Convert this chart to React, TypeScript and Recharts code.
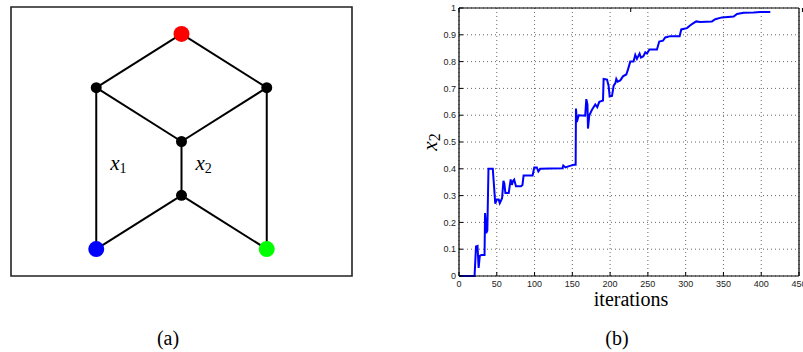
import React from 'react';
import {
  LineChart,
  Line,
  XAxis,
  YAxis,
  CartesianGrid,
  ScatterChart,
  Scatter,
  ReferenceArea,
  Label,
} from 'recharts';

// ---------- Panel (b): x2 vs iterations ----------
const iterations = [
  0, 20.6, 22.5, 24.5, 26, 27.5, 29.5, 33.8, 34.5, 35.5, 36, 37.5, 39, 44.7, 46.5, 48, 50, 52.6, 54, 57,
  58.8, 60, 61.4, 65.8, 68.4, 70, 71.5, 73, 75.4, 82, 84, 85.5, 97.4, 99.6, 103, 105, 107.5, 120, 137, 138,
  141, 145.6, 152, 154.4, 154.8, 156, 158.4, 167, 168.5, 170, 170.7, 172.5, 176, 180.4, 183, 185.7, 190.6,
  191.4, 195.9, 198, 199.4, 202.5, 204.7, 207, 208.2, 210, 213.5, 217, 221.4, 223.6, 226.7, 231, 233.3,
  235.5, 239, 240.8, 244, 246.6, 248.8, 252, 262, 265, 270, 273, 279.7, 292, 294.2, 301.7, 308.3, 314,
  319.4, 334.8, 339.2, 348, 363.5, 368, 376.7, 390, 398.8, 412,
];
const x2Values = [
  0, 0, 0.11, 0.112, 0.03, 0.075, 0.078, 0.078, 0.235, 0.2, 0.16, 0.17, 0.4, 0.4, 0.33, 0.27, 0.285, 0.285,
  0.272, 0.29, 0.355, 0.345, 0.31, 0.31, 0.36, 0.34, 0.355, 0.36, 0.335, 0.335, 0.34, 0.375, 0.375, 0.405,
  0.405, 0.39, 0.4, 0.401, 0.402, 0.412, 0.405, 0.41, 0.415, 0.415, 0.625, 0.575, 0.6, 0.598, 0.66, 0.64,
  0.55, 0.6, 0.62, 0.64, 0.63, 0.65, 0.655, 0.735, 0.733, 0.71, 0.67, 0.672, 0.71, 0.72, 0.735, 0.725, 0.73,
  0.745, 0.752, 0.77, 0.8, 0.8, 0.825, 0.81, 0.83, 0.815, 0.82, 0.835, 0.83, 0.845, 0.845, 0.875, 0.878,
  0.89, 0.895, 0.895, 0.92, 0.925, 0.94, 0.95, 0.948, 0.95, 0.958, 0.965, 0.968, 0.978, 0.982, 0.983,
  0.985, 0.985,
];
const xTicks = [0, 50, 100, 150, 200, 250, 300, 350, 400, 450];
const yTicks = [0, 0.1, 0.2, 0.3, 0.4, 0.5, 0.6, 0.7, 0.8, 0.9, 1];
const xAxisTitle = 'iterations';
const yAxisTitle = 'x';
const yAxisTitleSub = '2';

// ---------- Panel (a): graph ----------
const nodeIds = ['top', 'midLeft', 'midRight', 'center', 'lowCenter', 'bottomLeft', 'bottomRight'];
const nodeX = [2, 1, 3, 2, 2, 1, 3];
const nodeY = [4.5, 3.5, 3.5, 2.5, 1.5, 0.5, 0.5];
const edgeFrom = ['top', 'top', 'midLeft', 'midRight', 'center', 'lowCenter', 'lowCenter', 'midLeft', 'midRight'];
const edgeTo = ['midLeft', 'midRight', 'center', 'center', 'lowCenter', 'bottomLeft', 'bottomRight', 'bottomLeft', 'bottomRight'];
const edgeLabelSub = ['1', '2'];
const edgeLabelX = [1.26, 2.26];
const edgeLabelY = [2.06, 2.06];
const captions = ['(a)', '(b)'];

// styles
const NODE_FILL: Record<string, string> = { top: '#ff0000', bottomLeft: '#0000ff', bottomRight: '#00ff00' };
const TERMINAL_R = 8;
const INNER_R = 5.5;

const lineData = iterations.map((x, i) => ({ x, y: x2Values[i] }));
const nodes = nodeIds.map((id, i) => ({ id, x: nodeX[i], y: nodeY[i] }));
const nodeById: Record<string, { id: string; x: number; y: number }> = {};
nodes.forEach((n) => (nodeById[n.id] = n));
const edges = edgeFrom.map((f, i) => [
  { x: nodeById[f].x, y: nodeById[f].y },
  { x: nodeById[edgeTo[i]].x, y: nodeById[edgeTo[i]].y },
]);
const edgeLabels = edgeLabelSub.map((sub, i) => ({ x: edgeLabelX[i], y: edgeLabelY[i], sub }));

const tickFont = { fill: '#222', fontSize: 9, fontFamily: '"Liberation Sans", Arial, sans-serif' };
const axisStroke = { stroke: '#000', strokeWidth: 1.2 };
const empty = () => '';

const NodeShape = (props: any) => {
  const { cx, cy, payload } = props;
  const fill = NODE_FILL[payload.id] || '#000';
  const r = NODE_FILL[payload.id] ? TERMINAL_R : INNER_R;
  return <circle cx={cx} cy={cy} r={r} fill={fill} />;
};

const EdgeLabelShape = (props: any) => {
  const { cx, cy, payload } = props;
  return (
    <text
      x={cx}
      y={cy + 5}
      textAnchor="middle"
      fontFamily='"Liberation Serif", "DejaVu Serif", serif'
      fill="#000"
    >
      <tspan fontStyle="italic" fontSize={21}>x</tspan>
      <tspan fontSize={14} dy={3}>{payload.sub}</tspan>
    </text>
  );
};

const NoShape = () => <g />;

const YTitle = (props: any) => {
  const vb = props.viewBox || { x: 0, y: 0, width: 0, height: 0 };
  const cx = vb.x + 32;
  const cy = vb.y + vb.height / 2;
  return (
    <text
      transform={`rotate(-90, ${cx}, ${cy})`}
      x={cx}
      y={cy + 5}
      textAnchor="middle"
      fontFamily='"Liberation Serif", "DejaVu Serif", serif'
      fill="#000"
    >
      <tspan fontStyle="italic" fontSize={21}>{yAxisTitle}</tspan>
      <tspan fontSize={16} dy={3}>{yAxisTitleSub}</tspan>
    </text>
  );
};

const XTitle = (props: any) => {
  const vb = props.viewBox || { x: 0, y: 0, width: 0, height: 0 };
  return (
    <text
      x={vb.x + vb.width / 2 + 2}
      y={vb.y + 30}
      textAnchor="middle"
      fontFamily='"Liberation Serif", "Times New Roman", serif'
      fontSize={20}
      fill="#000"
    >
      {xAxisTitle}
    </text>
  );
};

export default function App() {
  return (
    <div
      style={{
        position: 'absolute',
        left: 0,
        top: 0,
        width: 803,
        height: 352,
        background: '#fff',
        overflow: 'hidden',
        fontFamily: '"Liberation Sans", Arial, sans-serif',
      }}
    >
      <div style={{ position: 'absolute', left: 0, top: 0 }}>
        <ScatterChart width={370} height={290} margin={{ top: 7, right: 18, bottom: 14, left: 11 }}>
          <XAxis type="number" dataKey="x" domain={[0, 4]} hide />
          <YAxis type="number" dataKey="y" domain={[0, 5]} hide />
          <ReferenceArea x1={0} x2={4} y1={0} y2={5} fill="none" fillOpacity={0} stroke="#222" strokeWidth={1.6} />
          {edges.map((e, i) => (
            <Scatter
              key={'edge' + i}
              data={e}
              fill="#000"
              line={{ stroke: '#000', strokeWidth: 2 }}
              lineType="joint"
              shape={NoShape}
              isAnimationActive={false}
            />
          ))}
          <Scatter data={nodes} fill="#000" shape={NodeShape} isAnimationActive={false} />
          <Scatter data={edgeLabels} fill="#000" shape={EdgeLabelShape} isAnimationActive={false} />
        </ScatterChart>
      </div>

      <div style={{ position: 'absolute', left: 400, top: 0 }}>
        <LineChart width={403} height={310} data={lineData} margin={{ top: 0, right: 0, bottom: 0, left: 0 }}>
          <CartesianGrid stroke="#666" strokeDasharray="1 3" strokeWidth={1} />
          <XAxis
            dataKey="x"
            type="number"
            domain={[0, 450]}
            ticks={xTicks}
            interval={0}
            height={34}
            tickSize={-4}
            tickMargin={9}
            axisLine={axisStroke}
            tickLine={{ stroke: '#000' }}
            tick={tickFont}
          >
            <Label content={XTitle} />
          </XAxis>
          <XAxis
            xAxisId="top"
            orientation="top"
            type="number"
            domain={[0, 450]}
            ticks={xTicks}
            interval={0}
            height={8}
            tickSize={-4}
            axisLine={axisStroke}
            tickLine={{ stroke: '#000' }}
            tickFormatter={empty}
          />
          <YAxis
            type="number"
            domain={[0, 1]}
            ticks={yTicks}
            interval={0}
            width={59}
            tickSize={-4}
            tickMargin={7}
            axisLine={axisStroke}
            tickLine={{ stroke: '#000' }}
            tick={tickFont}
          >
            <Label content={YTitle} />
          </YAxis>
          <YAxis
            yAxisId="right"
            orientation="right"
            type="number"
            domain={[0, 1]}
            ticks={yTicks}
            interval={0}
            width={4}
            tickSize={-4}
            axisLine={axisStroke}
            tickLine={{ stroke: '#000' }}
            tickFormatter={empty}
          />
          <Line
            dataKey="y"
            type="linear"
            stroke="#0000ff"
            strokeWidth={2}
            dot={false}
            isAnimationActive={false}
          />
        </LineChart>
      </div>

      <svg width={803} height={352} style={{ position: 'absolute', left: 0, top: 0, pointerEvents: 'none' }}>
        <text x={168} y={345} textAnchor="middle" fontFamily='"Liberation Serif", serif' fontSize={20} fill="#000">
          {captions[0]}
        </text>
        <text x={617} y={345} textAnchor="middle" fontFamily='"Liberation Serif", serif' fontSize={20} fill="#000">
          {captions[1]}
        </text>
      </svg>
    </div>
  );
}
